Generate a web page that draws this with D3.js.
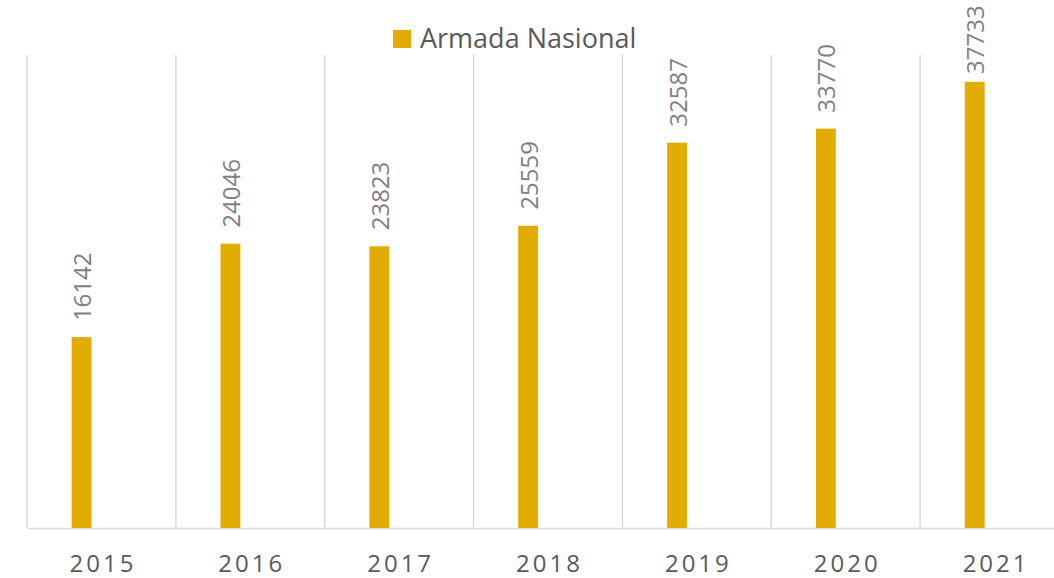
<!DOCTYPE html>
<html>
<head>
<meta charset="utf-8">
<script src="https://cdn.jsdelivr.net/npm/d3@7"></script>
<style>
  html, body { margin: 0; padding: 0; background: #fff; overflow: hidden; }
</style>
</head>
<body>
<div id="vizcontainer"></div>
<script>
const years = ['2015', '2016', '2017', '2018', '2019', '2020', '2021'],
  values = [16142, 24046, 23823, 25559, 32587, 33770, 37733],
  seriesName = 'Armada Nasional',
  slots = [0, 1, 2];   // clustered slots, only the first one carries data

const
  width = 1054,
  height = 578,
  plotLeft = 27,
  plotRight = 1069,
  plotTop = 55,
  plotBottom = 528,
  barColor = '#E2AC00',
  gridColor = '#D9D9D9',
  font = '"Open Sans", "Noto Sans", sans-serif';

let svg = d3.select('#vizcontainer')
  .append('svg')
  .attr('width', width)
  .attr('height', height);

const x = d3.scaleBand()
  .domain(years)
  .range([plotLeft, plotRight])
  .padding(0);

const slot = d3.scaleBand()
  .domain(slots)
  .range([0, x.bandwidth()])
  .paddingInner(0)
  .paddingOuter(2.25);

const y = d3.scaleLinear()
  .domain([0, 40000])
  .range([plotBottom, plotTop]);

// vertical gridlines at category boundaries
const bounds = years.map(d => x(d)).concat([x(years[years.length - 1]) + x.bandwidth()]);
svg.append('g')
  .selectAll('line')
  .data(bounds)
  .join('line')
  .attr('x1', d => d)
  .attr('x2', d => d)
  .attr('y1', y(40000))
  .attr('y2', y(0))
  .attr('stroke', gridColor)
  .attr('stroke-width', 1.5);

// x axis
const xAxis = svg.append('g')
  .attr('transform', `translate(0,${y(0)})`)
  .call(d3.axisBottom(x).tickSize(0).tickPadding(0));
xAxis.select('.domain').attr('stroke', gridColor).attr('stroke-width', 1.5);
xAxis.selectAll('.tick text')
  .attr('y', 44)
  .attr('dy', 0)
  .attr('dx', 1.5)
  .attr('font-family', font)
  .attr('font-size', 24)
  .attr('letter-spacing', 3)
  .attr('fill', '#595959');

// bars
svg.append('g')
  .selectAll('rect')
  .data(values)
  .join('rect')
  .attr('x', (d, i) => x(years[i]) + slot(0))
  .attr('width', slot.bandwidth())
  .attr('y', d => y(d))
  .attr('height', d => y(0) - y(d))
  .attr('fill', barColor);

// value labels (rotated), clamped to top of the chart area
svg.append('g')
  .selectAll('text')
  .data(values)
  .join('text')
  .attr('transform', (d, i) => {
    const cx = x(years[i]) + slot(0) + slot.bandwidth() / 2;
    const cy = Math.max(y(d) - 16, 74);
    return `translate(${cx},${cy}) rotate(-90)`;
  })
  .attr('dominant-baseline', 'central')
  .attr('font-family', font)
  .attr('font-size', 24)
  .attr('fill', '#7F7F7F')
  .text(d => d);

// legend
const legend = svg.append('g').attr('transform', 'translate(393,30)');
legend.append('rect')
  .attr('width', 18)
  .attr('height', 18)
  .attr('fill', barColor);
legend.append('text')
  .attr('x', 27)
  .attr('y', 18)
  .attr('font-family', font)
  .attr('font-size', 27)
  .attr('fill', '#595959')
  .text(seriesName);
</script>
</body>
</html>
